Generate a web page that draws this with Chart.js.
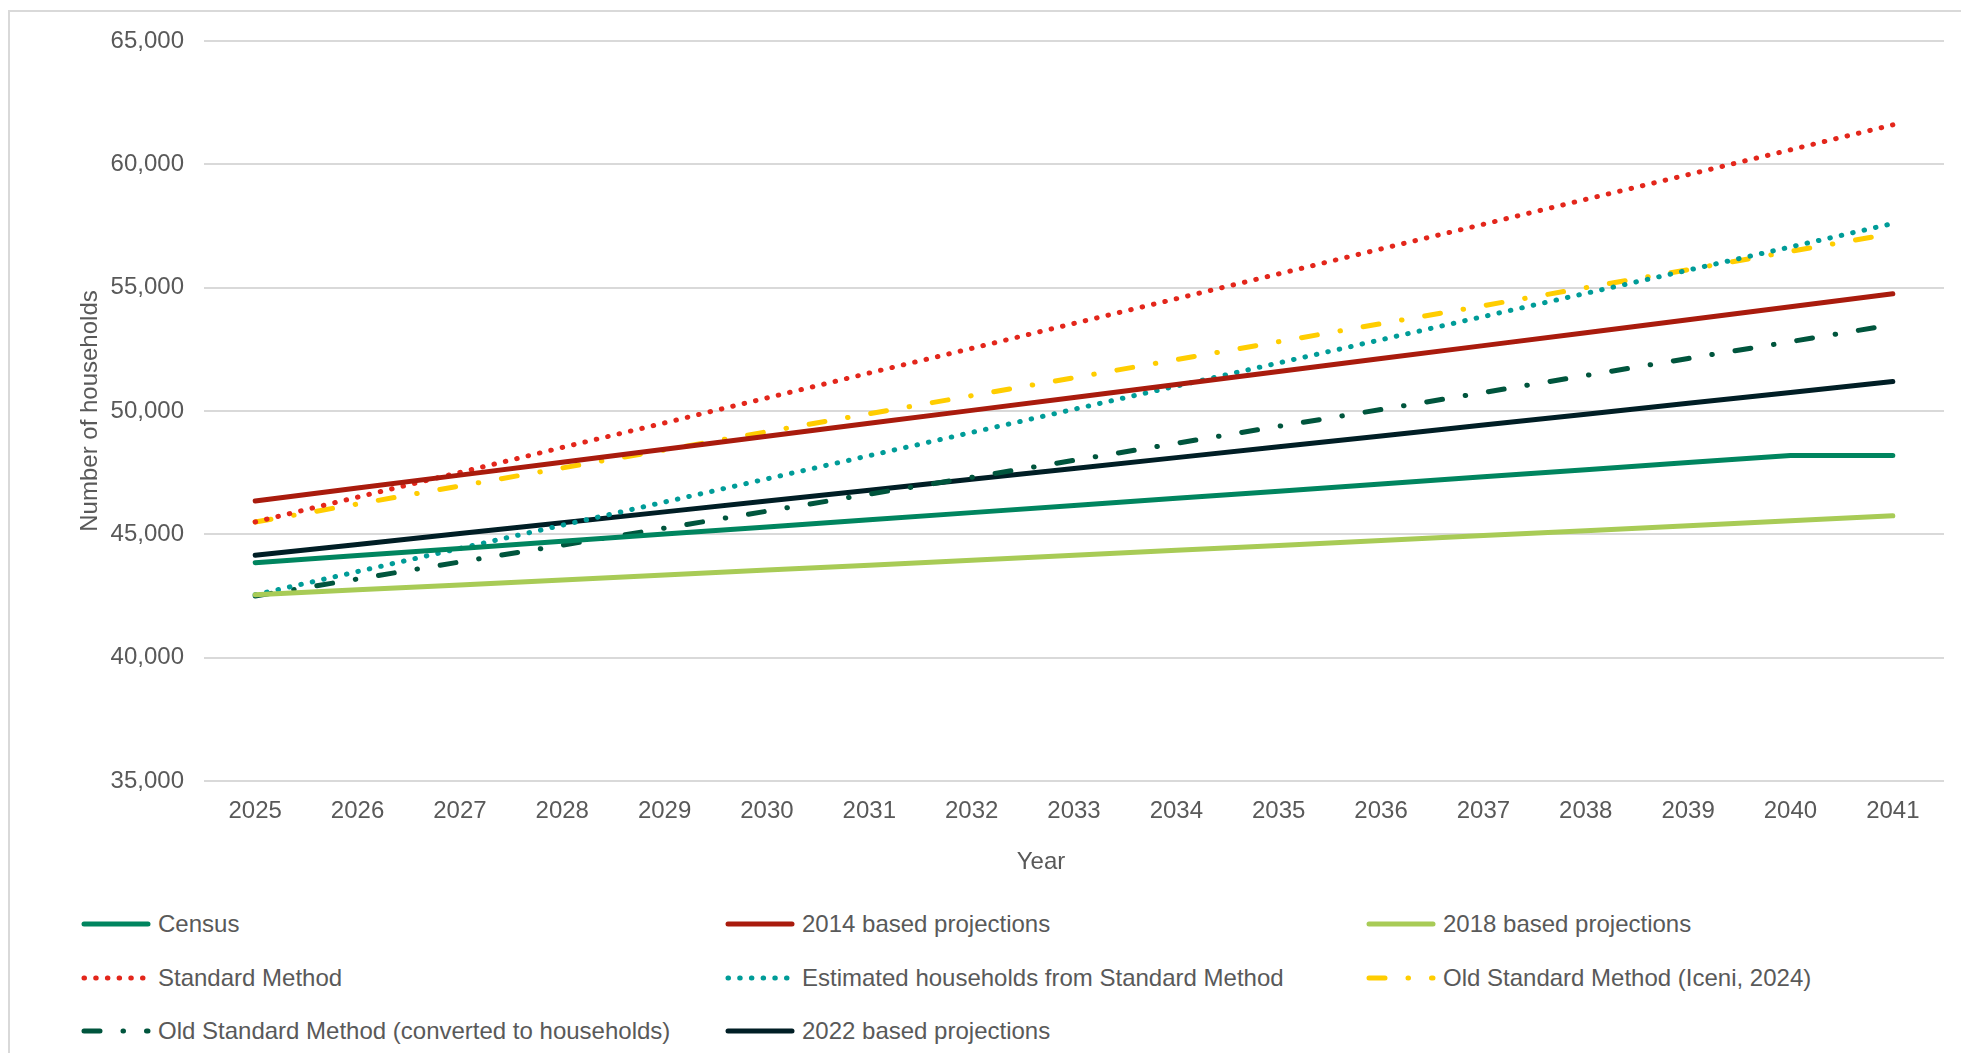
<!DOCTYPE html>
<html>
<head>
<meta charset="utf-8">
<script src="https://cdn.jsdelivr.net/npm/chart.js@4.4.1/dist/chart.umd.min.js"></script>
<style>
    body { margin: 0; background: #fff; width: 1961px; height: 1053px; overflow: hidden; position: relative;
           font-family: "Liberation Sans", Arial, sans-serif; }
    #frame { position: absolute; left: 8px; top: 10px; width: 1970px; height: 1070px; border: 2px solid #d9d9d9; }
    #chart { position: absolute; left: 0; top: 0; }
    #xtitle { position: absolute; left: 1041px; top: 861px; transform: translate(-50%, -50%);
              font-size: 24px; color: #595959; }
    .item { position: absolute; display: flex; align-items: center; font-size: 24px; color: #595959;
            white-space: nowrap; transform: translateY(-50%); }
    .item svg { margin-right: 5px; }
</style>
</head>
<body>
<div id="frame"></div>
<canvas id="chart" width="1961" height="900"></canvas>
<div id="xtitle">Year</div>
<div id="legend"></div>
<script>
// Années
const years = ['2025', '2026', '2027', '2028', '2029', '2030', '2031', '2032', '2033',
               '2034', '2035', '2036', '2037', '2038', '2039', '2040', '2041'];

// Séries
const census = [43850, 44140, 44430, 44720, 45010, 45300, 45590, 45880, 46170,
                46460, 46750, 47040, 47330, 47620, 47910, 48200, 48200];
const based2014 = [46350, 46875, 47400, 47925, 48450, 48975, 49500, 50025, 50550,
                   51075, 51600, 52125, 52650, 53175, 53700, 54225, 54750];
const based2018 = [42550, 42750, 42950, 43150, 43350, 43550, 43750, 43950, 44150,
                   44350, 44550, 44750, 44950, 45150, 45350, 45550, 45750];
const standardMethod = [45500, 46510, 47510, 48520, 49520, 50530, 51540, 52540, 53550,
                        54550, 55560, 56570, 57570, 58580, 59580, 60590, 61600];
const estimatedHouseholds = [42550, 43490, 44430, 45370, 46310, 47250, 48190, 49130, 50070,
                             51010, 51950, 52890, 53830, 54770, 55710, 56650, 57600];
const oldStandardIceni = [45500, 46230, 46960, 47690, 48420, 49160, 49890, 50620, 51350,
                          52080, 52810, 53540, 54270, 55000, 55730, 56470, 57200];
const oldStandardConverted = [42500, 43190, 43880, 44560, 45250, 45940, 46630, 47310, 48000,
                              48690, 49380, 50060, 50750, 51440, 52130, 52810, 53500];
const based2022 = [44150, 44590, 45030, 45470, 45910, 46350, 46790, 47230, 47670,
                   48110, 48550, 48990, 49430, 49870, 50310, 50750, 51200];

const yTicks = [35000, 40000, 45000, 50000, 55000, 60000, 65000];

const textColor = '#595959';
const gridColor = '#d9d9d9';
const font = { family: '"Liberation Sans", Arial, sans-serif', size: 24 };

const dots = [0.5, 11.2];
const dashDot = [16, 23, 0.5, 23];

const datasets = [
    { label: 'Census', data: census, borderColor: '#00855F', dash: [] },
    { label: '2014 based projections', data: based2014, borderColor: '#A91B0D', dash: [] },
    { label: '2018 based projections', data: based2018, borderColor: '#A8CB56', dash: [] },
    { label: 'Standard Method', data: standardMethod, borderColor: '#E3261B', dash: dots },
    { label: 'Estimated households from Standard Method', data: estimatedHouseholds, borderColor: '#009C98', dash: dots },
    { label: 'Old Standard Method (Iceni, 2024)', data: oldStandardIceni, borderColor: '#FFCD00', dash: dashDot },
    { label: 'Old Standard Method (converted to households)', data: oldStandardConverted, borderColor: '#00553D', dash: dashDot },
    { label: '2022 based projections', data: based2022, borderColor: '#001E25', dash: [] }
].map(d => ({
    label: d.label,
    data: d.data,
    borderColor: d.borderColor,
    backgroundColor: d.borderColor,
    borderDash: d.dash,
    borderWidth: 5,
    borderCapStyle: 'round',
    borderJoinStyle: 'round',
    pointRadius: 0,
    tension: 0
}));

const ctx = document.getElementById('chart').getContext('2d');
const chart = new Chart(ctx, {
    type: 'line',
    data: { labels: years, datasets: datasets },
    options: {
        responsive: false,
        animation: false,
        layout: { padding: { top: 41, right: 17, left: 0, bottom: 0 } },
        plugins: { legend: { display: false }, tooltip: { enabled: false } },
        scales: {
            x: {
                offset: true,
                grid: { display: false, drawTicks: false },
                border: { display: false },
                ticks: { color: textColor, font: font, padding: 16, maxRotation: 0 },
                afterFit: scale => { scale.height = 119; }
            },
            y: {
                min: yTicks[0],
                max: yTicks[yTicks.length - 1],
                afterBuildTicks: scale => { scale.ticks = yTicks.map(v => ({ value: v })); },
                grid: { color: gridColor, lineWidth: 2, drawTicks: false },
                border: { display: false },
                ticks: {
                    color: textColor, font: font, padding: 20,
                    callback: v => v.toLocaleString('en-GB')
                },
                title: { display: true, text: 'Number of households', color: textColor, font: font,
                         padding: { top: 76, bottom: 0 } },
                afterFit: scale => { scale.width = 204; }
            }
        }
    }
});

// Légende en trois colonnes
const legendCols = [81, 725, 1366];
const legendRows = [924, 978, 1031];
const legend = document.getElementById('legend');
chart.data.datasets.forEach((ds, i) => {
    const item = document.createElement('div');
    item.className = 'item';
    item.style.left = legendCols[i % 3] + 'px';
    item.style.top = legendRows[Math.floor(i / 3)] + 'px';
    const dash = ds.borderDash.length ? ds.borderDash.join(' ') : 'none';
    item.innerHTML =
        '<svg width="72" height="10"><line x1="3" y1="5" x2="67" y2="5" stroke="' + ds.borderColor +
        '" stroke-width="5" stroke-linecap="round" stroke-dasharray="' + dash + '"/></svg>';
    const span = document.createElement('span');
    span.textContent = ds.label;
    item.appendChild(span);
    legend.appendChild(item);
});
</script>
</body>
</html>
